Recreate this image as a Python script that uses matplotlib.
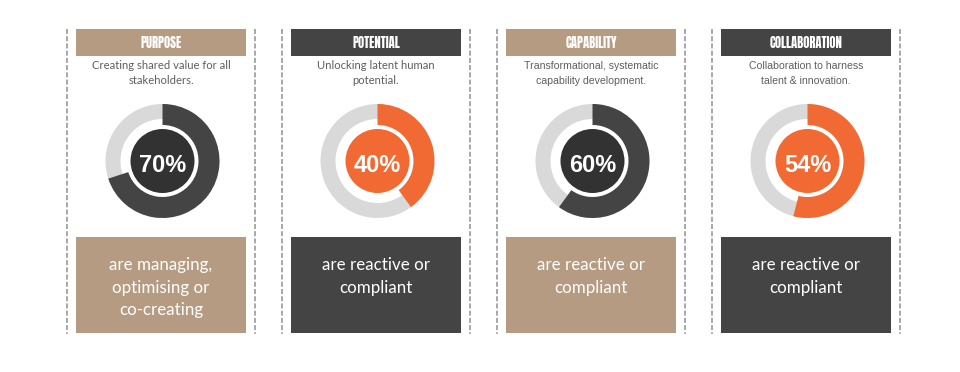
import matplotlib
matplotlib.use('Agg')
import matplotlib.pyplot as plt
from matplotlib.patches import Rectangle, Circle
from matplotlib import font_manager

# ---------------- data ----------------
titles = ['PURPOSE', 'POTENTIAL', 'CAPABILITY', 'COLLABORATION']
descriptions = ['Creating shared value for all\nstakeholders.',
                'Unlocking latent human\npotential.',
                'Transformational, systematic\ncapability development.',
                'Collaboration to harness\ntalent & innovation.']
values = [70, 40, 60, 54]
value_labels = ['70%', '40%', '60%', '54%']
footers = ['are managing,\noptimising or\nco-creating',
           'are reactive or\ncompliant',
           'are reactive or\ncompliant',
           'are reactive or\ncompliant']

# ---------------- style ----------------
TAN = '#b59b81'
DARK = '#444444'
ORANGE = '#f26a33'
LIGHT = '#d9d9d9'
CORE_DARK = '#323232'
box_colors = [TAN, DARK, TAN, DARK]
arc_colors = [DARK, ORANGE, DARK, ORANGE]
core_colors = [CORE_DARK, ORANGE, CORE_DARK, ORANGE]

names = {f.name for f in font_manager.fontManager.ttflist}


def pick(cands):
    for c in cands:
        if c in names:
            return c
    return 'DejaVu Sans'


HEAD_FONT = pick(['Anton', 'Roboto Condensed', 'DejaVu Sans'])
head_kw = dict(family=HEAD_FONT, fontweight='normal' if HEAD_FONT == 'Anton' else 'bold')
head_size = 9.1 if HEAD_FONT == 'Anton' else 8.4
HUM_FONT = pick(['Lato', 'Open Sans', 'Noto Sans'])
desc_fonts = [HUM_FONT, HUM_FONT, 'Liberation Sans', 'Liberation Sans']
desc_sizes = [8.1, 8.1, 7.6, 7.6]
foot_size = 12.2

W, H = 960, 372
DPI = 100
plt.rcParams['lines.scale_dashes'] = False
fig = plt.figure(figsize=(W / DPI, H / DPI), dpi=DPI)
ax = fig.add_axes([0, 0, 1, 1])


def Y(y):
    return H - y


x0s = [76, 291, 506, 721]
BW = 170
for i in range(4):
    x0 = x0s[i]
    cx = x0 + BW / 2 + 1.5
    cy = 161
    # dashed separators
    for xl in (x0 - 9, x0 + 179):
        ax.plot([xl, xl], [Y(29), Y(334)], color='#9a9a9a', lw=1.2,
                dashes=(3.6, 1.6), solid_capstyle='butt')
    # header
    ax.add_patch(Rectangle((x0, Y(56)), BW, 27, facecolor=box_colors[i], edgecolor='none'))
    ax.text(x0 + BW / 2, Y(47.8), titles[i], color='white', fontsize=head_size,
            ha='center', va='baseline', **head_kw)
    # description
    for j, line in enumerate(descriptions[i].split('\n')):
        ax.text(x0 + BW / 2, Y(69 + 14.5 * j), line, color='#5f5f5f',
                fontsize=desc_sizes[i], family=desc_fonts[i], ha='center', va='baseline')
    # donut: background ring
    ax.pie([1], radius=57, center=(cx, Y(cy)), colors=[LIGHT],
           wedgeprops=dict(width=15, edgecolor='none'), frame=True)
    ax.pie([values[i], 100 - values[i]], radius=57, center=(cx, Y(cy)),
           colors=[arc_colors[i], 'none'], startangle=90, counterclock=False,
           wedgeprops=dict(width=21, edgecolor='none'), frame=True)
    ax.add_patch(Circle((cx, Y(cy)), 32, facecolor=core_colors[i], edgecolor='none'))
    ax.text(cx, Y(171.5), value_labels[i], color='white', fontsize=17,
            family='Liberation Sans', fontweight='bold', ha='center', va='baseline')
    # footer box
    ax.add_patch(Rectangle((x0, Y(333)), BW, 96, facecolor=box_colors[i], edgecolor='none'))
    for j, line in enumerate(footers[i].split('\n')):
        ax.text(x0 + BW / 2, Y(270 + 22.5 * j), line, color='white', fontsize=foot_size,
                family=HUM_FONT, ha='center', va='baseline')

ax.set_xlim(0, W)
ax.set_ylim(0, H)
ax.set_aspect('equal')
ax.axis('off')
fig.savefig('out.png', dpi=DPI, facecolor='white')
